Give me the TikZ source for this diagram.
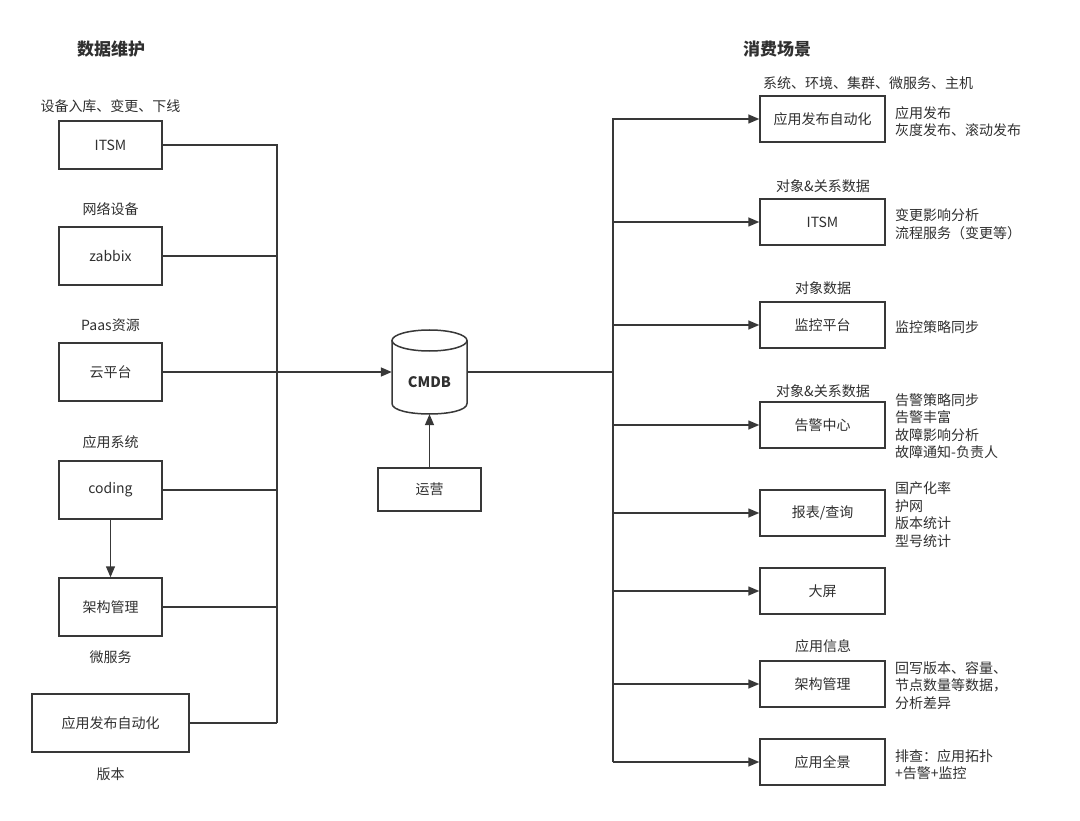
\documentclass[tikz,border=0pt]{standalone}
\usepackage{fontspec}
\setmainfont{Noto Sans CJK SC}
\usetikzlibrary{arrows.meta}
\definecolor{linec}{HTML}{383838}
\definecolor{txt}{HTML}{303030}
\begin{document}
\begin{tikzpicture}[x=1pt,y=-1pt,
  box/.style={draw=linec, line width=1.5pt, minimum width=103pt, minimum height=58pt, inner sep=0pt, font=\fontsize{14}{16}\selectfont, text=txt},
  rbox/.style={box, minimum width=125pt, minimum height=46pt},
  lbl/.style={font=\fontsize{14}{16}\selectfont, text=txt, inner sep=0pt},
  note/.style={lbl, anchor=west, align=left, font=\fontsize{14}{17.5}\selectfont},
  conn/.style={draw=linec, line width=1.5pt},
  arr/.style={conn, -{Triangle[length=11pt,width=9pt]}},
  ttl/.style={font=\fontsize{17}{20}\selectfont\bfseries, text=txt, inner sep=0pt}]
\fill[white] (0,0) rectangle (1080,821);
\useasboundingbox (0,0) rectangle (1080,821);

% titles
\node[ttl] (t1) at (111,49) {数据维护};
\node[ttl] (t2) at (777,49) {消费场景};

% left column
\node[lbl] (l1) at (110.5,106) {设备入库、变更、下线};
\node[box, minimum height=48pt] (itsm) at (110.5,145) {ITSM};
\node[lbl] (l2) at (110.5,209) {网络设备};
\node[box] (zabbix) at (110.5,256) {zabbix};
\node[lbl] (l3) at (110.5,325) {Paas资源};
\node[box] (cloud) at (110.5,372) {云平台};
\node[lbl] (l4) at (110.5,442) {应用系统};
\node[box] (coding) at (110.5,490) {coding};
\node[box] (arch) at (110.5,607) {架构管理};
\node[lbl] (l5) at (110.5,657) {微服务};
\node[box, minimum width=157pt] (auto) at (110.5,723) {应用发布自动化};
\node[lbl] (l6) at (110.5,774) {版本};

\coordinate (busLtop) at (277,145);
\coordinate (busLmid) at (277,372);
\coordinate (busLbot) at (277,723);

\draw[conn] (itsm.east) -| (busLbot);
\draw[conn] (zabbix.east) -- (zabbix.east -| busLbot);
\draw[conn] (cloud.east) -- (cloud.east -| busLbot);
\draw[conn] (coding.east) -- (coding.east -| busLbot);
\draw[conn] (arch.east) -- (arch.east -| busLbot);
\draw[conn] (auto.east) -- (busLbot);
\draw[arr] (coding.south) -- (arch.north);

% CMDB cylinder
\node[minimum width=75pt, minimum height=84pt, inner sep=0pt] (cmdb) at (429.5,372) {};
\draw[conn, fill=white] (392,340.5) -- (392,403.5) .. controls (392,417.5) and (467,417.5) .. (467,403.5) -- (467,340.5);
\draw[conn] (429.5,340.5) ellipse [x radius=37.5, y radius=10.5];
\node[font=\fontsize{14.5}{16}\selectfont\bfseries, text=txt, inner sep=0pt] (cmdbt) at (429.5,382) {CMDB};
\draw[arr] (busLmid) -- (cmdb.west);

\node[box, minimum height=43pt] (ops) at (429.5,489.5) {运营};
\draw[arr] (ops.north) -- (cmdb.south);

% right bus
\coordinate (busRtop) at (613,119);
\coordinate (busRmid) at (613,372);
\coordinate (busRbot) at (613,762);
\draw[conn] (cmdb.east) -- (busRmid);

% right column
\node[lbl] (r1l) at (868,83) {系统、环境、集群、微服务、主机};
\node[rbox] (pub) at (822.5,119) {应用发布自动化};
\node[note] (r1n) at (895,121.5) {应用发布\\灰度发布、滚动发布};

\node[lbl] (r2l) at (823,186) {对象\&关系数据};
\node[rbox] (itsm2) at (822.5,222) {ITSM};
\node[note] (r2n) at (895,224) {变更影响分析\\流程服务（变更等）};

\node[lbl] (r3l) at (823,288) {对象数据};
\node[rbox] (mon) at (822.5,325) {监控平台};
\node[note] (r3n) at (895,327) {监控策略同步};

\node[lbl] (r4l) at (823,391) {对象\&关系数据};
\node[rbox] (alarm) at (822.5,425) {告警中心};
\node[note] (r4n) at (895,426) {告警策略同步\\告警丰富\\故障影响分析\\故障通知-负责人};

\node[rbox] (report) at (822.5,513) {报表/查询};
\node[note] (r5n) at (895,514.5) {国产化率\\护网\\版本统计\\型号统计};

\node[rbox] (screen) at (822.5,591) {大屏};

\node[lbl] (r7l) at (823,646) {应用信息};
\node[rbox] (arch2) at (822.5,684) {架构管理};
\node[note] (r7n) at (895,685.5) {回写版本、容量、\\节点数量等数据，\\分析差异};

\node[rbox] (pano) at (822.5,762) {应用全景};
\node[note] (r8n) at (895,764.5) {排查：应用拓扑\\+告警+监控};

\draw[arr] (busRbot) -- (busRtop) -- (pub.west);
\draw[arr] (itsm2.west -| busRtop) -- (itsm2.west);
\draw[arr] (mon.west -| busRtop) -- (mon.west);
\draw[arr] (alarm.west -| busRtop) -- (alarm.west);
\draw[arr] (report.west -| busRtop) -- (report.west);
\draw[arr] (screen.west -| busRtop) -- (screen.west);
\draw[arr] (arch2.west -| busRtop) -- (arch2.west);
\draw[arr] (busRbot) -- (pano.west);
\end{tikzpicture}
\end{document}
